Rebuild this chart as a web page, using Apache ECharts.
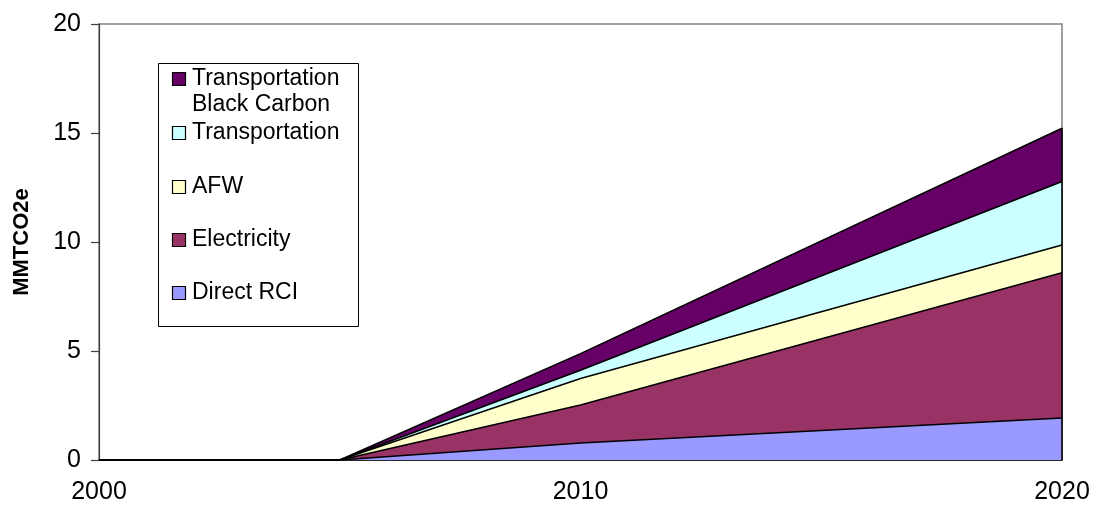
<!DOCTYPE html>
<html>
<head>
<meta charset="utf-8">
<script src="https://cdn.jsdelivr.net/npm/echarts@6/dist/echarts.min.js"></script>
<style>
  html, body { margin: 0; padding: 0; background: #ffffff; }
  #chart { width: 1094px; height: 513px; }
</style>
</head>
<body>
<div id="chart"></div>
<script>
// Years with readings
const years = [2000, 2005, 2010, 2020];

// Emission reductions per sector, MMTCO2e (stack order: bottom to top)
const directRCI      = [0, 0, 0.78, 1.93];
const electricity    = [0, 0, 1.74, 6.66];
const afw            = [0, 0, 1.22, 1.27];
const transportation = [0, 0, 0.38, 2.91];
const transportBC    = [0, 0, 0.76, 2.45];

const yTicks = [0, 5, 10, 15, 20];
const xTicks = [2000, 2010, 2020];

const seriesNames = ['Direct RCI', 'Electricity', 'AFW', 'Transportation', 'Transportation Black Carbon'];
const seriesData  = [directRCI, electricity, afw, transportation, transportBC];
const seriesColors = ['#9999FF', '#993366', '#FFFFCC', '#CCFFFF', '#660066'];

const FONT = 'Liberation Sans, Arial, sans-serif';

const chart = echarts.init(document.getElementById('chart'), null, { renderer: 'canvas' });

// Running totals per year: each band is filled from the axis up to its cumulative top,
// painted from the highest band down so the lower bands sit over it.
const cumulative = [];
seriesData.forEach((d, i) => {
  cumulative.push(d.map((v, j) => v + (i > 0 ? cumulative[i - 1][j] : 0)));
});
const lastIdx = years.length - 1;
const stackTop = cumulative[cumulative.length - 1][lastIdx];

const series = [];
for (let i = seriesNames.length - 1; i >= 0; i--) {
  const s = {
    name: seriesNames[i],
    type: 'line',
    symbol: 'none',
    silent: true,
    data: years.map((y, j) => [y, cumulative[i][j]]),
    lineStyle: { color: '#000000', width: 1.6 },
    areaStyle: { color: seriesColors[i], opacity: 1 },
    itemStyle: { color: seriesColors[i] }
  };
  if (i === 0) {
    // closing edge of the stacked block at the final year
    s.markLine = {
      silent: true,
      symbol: ['none', 'none'],
      label: { show: false },
      lineStyle: { color: '#000000', width: 1.6, type: 'solid' },
      data: [[{ coord: [years[lastIdx], 0] }, { coord: [years[lastIdx], stackTop] }]]
    };
  }
  series.push(s);
}

// Legend box: rows listed top-down, highest band first
const legendLeft = 158, legendTop = 63, legendW = 200, legendH = 263;
const rowY = [79, 133, 187, 240, 293];
const legendLabels = ['Transportation\nBlack Carbon', 'Transportation', 'AFW', 'Electricity', 'Direct RCI'];
const legendColors = seriesColors.slice().reverse();

const legendChildren = [{
  type: 'rect',
  shape: { x: legendLeft + 0.5, y: legendTop + 0.5, width: legendW, height: legendH },
  style: { fill: '#ffffff', stroke: '#000000', lineWidth: 1 }
}];
legendLabels.forEach((label, i) => {
  legendChildren.push({
    type: 'rect',
    shape: { x: 172.5, y: rowY[i] - 6.5, width: 13, height: 13 },
    style: { fill: legendColors[i], stroke: '#000000', lineWidth: 1.2 }
  });
  legendChildren.push({
    type: 'text',
    x: 192,
    y: rowY[i] - 13,
    style: {
      text: label,
      font: '23px ' + FONT,
      fill: '#000000',
      lineHeight: 26,
      verticalAlign: 'top'
    }
  });
});

const option = {
  animation: false,
  backgroundColor: '#ffffff',
  grid: {
    left: 99, right: 32, top: 24, bottom: 53,
    outerBoundsMode: 'none',
    show: true,
    borderColor: '#808080',
    borderWidth: 1.5,
    backgroundColor: 'transparent'
  },
  xAxis: {
    type: 'value',
    min: xTicks[0],
    max: xTicks[xTicks.length - 1],
    interval: 10,
    axisLine: { show: true, lineStyle: { color: '#000000', width: 1.5 } },
    axisTick: { show: false },
    splitLine: { show: false },
    axisLabel: {
      color: '#000000',
      fontFamily: FONT,
      fontSize: 25,
      margin: 20,
      formatter: v => String(v)
    }
  },
  yAxis: {
    type: 'value',
    min: yTicks[0],
    max: yTicks[yTicks.length - 1],
    interval: 5,
    name: 'MMTCO2e',
    nameLocation: 'middle',
    nameRotate: 90,
    nameGap: 66,
    nameTextStyle: { color: '#000000', fontFamily: FONT, fontSize: 22, fontWeight: 'bold' },
    axisLine: { show: true, lineStyle: { color: '#404040', width: 1.2 } },
    axisTick: { show: true, inside: false, length: 8, lineStyle: { color: '#404040', width: 1.2 } },
    splitLine: { show: false },
    axisLabel: {
      color: '#000000',
      fontFamily: FONT,
      fontSize: 25,
      margin: 18
    }
  },
  series: series,
  graphic: { elements: [{ type: 'group', z: 10, children: legendChildren }] }
};

chart.setOption(option);
</script>
</body>
</html>
